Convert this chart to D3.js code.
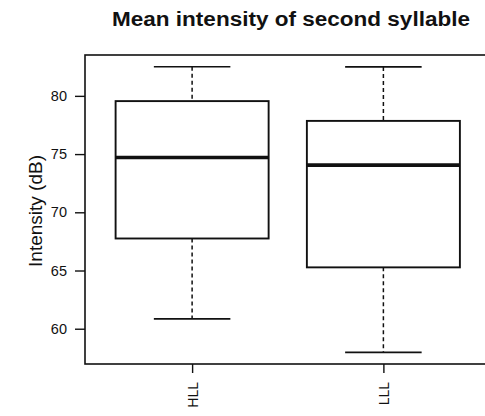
<!DOCTYPE html>
<html>
<head>
<meta charset="utf-8">
<script src="https://cdn.jsdelivr.net/npm/d3@7"></script>
<style>
  body { margin: 0; background: #fff; overflow: hidden; }
  svg { display: block; font-family: 'Liberation Sans', Arial, sans-serif; }
</style>
</head>
<body>
<div id="chart"></div>
<script>
// five-number summaries
const groups = ['HLL', 'LLL']
const lowerWhisker = [60.85, 57.97]
const lowerQuartile = [67.75, 65.27]
const medians = [74.7, 74.05]
const upperQuartile = [79.55, 77.85]
const upperWhisker = [82.5, 82.49]
const yTicks = [60, 65, 70, 75, 80]

const width = 485
const height = 416
const ink = '#111'

// right edge of the plot region falls just outside the picture
const x = d3.scaleLinear().domain([0.44, 2.56]).range([85, 490.5])
const y = d3.scaleLinear().domain([56.97, 83.51]).range([364, 55])

const boxWidth = 0.8
const capWidth = 0.4

const data = groups.map((g, i) => ({
  name: g,
  pos: i + 1,
  lo: lowerWhisker[i],
  q1: lowerQuartile[i],
  med: medians[i],
  q3: upperQuartile[i],
  hi: upperWhisker[i]
}))

const svg = d3.select('#chart').append('svg')
    .attr('width', width)
    .attr('height', height)

// title
svg.append('text')
    .attr('x', 291)
    .attr('y', 26)
    .attr('text-anchor', 'middle')
    .attr('textLength', 358)
    .attr('lengthAdjust', 'spacingAndGlyphs')
    .style('font-size', '20px')
    .style('font-weight', 'bold')
    .attr('fill', ink)
    .text('Mean intensity of second syllable')

// plot frame
svg.append('rect')
    .attr('x', x.range()[0])
    .attr('y', y.range()[1])
    .attr('width', x.range()[1] - x.range()[0])
    .attr('height', y.range()[0] - y.range()[1])
    .attr('fill', 'none')
    .attr('stroke', ink)
    .attr('stroke-width', 1.6)

// y axis
const yAxis = d3.axisLeft(y).tickValues(yTicks).tickSize(10).tickPadding(8)
const gy = svg.append('g')
    .attr('transform', 'translate(' + x.range()[0] + ',0)')
    .call(yAxis)
gy.select('.domain').remove()
gy.selectAll('line').attr('stroke', ink).attr('stroke-width', 1.4)
gy.selectAll('text').style('font-size', '14.5px').attr('fill', ink)

svg.append('text')
    .attr('transform', 'translate(42,211)rotate(-90)')
    .attr('text-anchor', 'middle')
    .style('font-size', '19px')
    .attr('fill', ink)
    .text('Intensity (dB)')

// x axis, labels perpendicular
const xAxis = d3.axisBottom(x)
    .tickValues(data.map(d => d.pos))
    .tickFormat(d => groups[d - 1])
    .tickSize(9)
const gx = svg.append('g')
    .attr('transform', 'translate(0,' + y.range()[0] + ')')
    .call(xAxis)
gx.select('.domain').remove()
gx.selectAll('line').attr('stroke', ink).attr('stroke-width', 1.4)
gx.selectAll('text')
    .attr('transform', 'rotate(-90)')
    .attr('x', -18)
    .attr('y', 0)
    .attr('dy', '0.36em')
    .attr('text-anchor', 'end')
    .style('font-size', '14px')
    .attr('fill', ink)

// boxes
const box = svg.append('g').selectAll('g')
    .data(data)
  .join('g')

box.append('line')
    .attr('x1', d => x(d.pos)).attr('x2', d => x(d.pos))
    .attr('y1', d => y(d.hi)).attr('y2', d => y(d.q3))
    .attr('stroke', ink).attr('stroke-width', 1.5)
    .attr('stroke-dasharray', '4,3')

box.append('line')
    .attr('x1', d => x(d.pos)).attr('x2', d => x(d.pos))
    .attr('y1', d => y(d.q1)).attr('y2', d => y(d.lo))
    .attr('stroke', ink).attr('stroke-width', 1.5)
    .attr('stroke-dasharray', '4,3')

box.append('line')
    .attr('x1', d => x(d.pos - capWidth / 2)).attr('x2', d => x(d.pos + capWidth / 2))
    .attr('y1', d => y(d.hi)).attr('y2', d => y(d.hi))
    .attr('stroke', ink).attr('stroke-width', 1.6)

box.append('line')
    .attr('x1', d => x(d.pos - capWidth / 2)).attr('x2', d => x(d.pos + capWidth / 2))
    .attr('y1', d => y(d.lo)).attr('y2', d => y(d.lo))
    .attr('stroke', ink).attr('stroke-width', 1.6)

box.append('rect')
    .attr('x', d => x(d.pos - boxWidth / 2))
    .attr('y', d => y(d.q3))
    .attr('width', d => x(d.pos + boxWidth / 2) - x(d.pos - boxWidth / 2))
    .attr('height', d => y(d.q1) - y(d.q3))
    .attr('fill', '#fff')
    .attr('stroke', ink)
    .attr('stroke-width', 1.9)

box.append('line')
    .attr('x1', d => x(d.pos - boxWidth / 2)).attr('x2', d => x(d.pos + boxWidth / 2))
    .attr('y1', d => y(d.med)).attr('y2', d => y(d.med))
    .attr('stroke', ink).attr('stroke-width', 3.6)
</script>
</body>
</html>
